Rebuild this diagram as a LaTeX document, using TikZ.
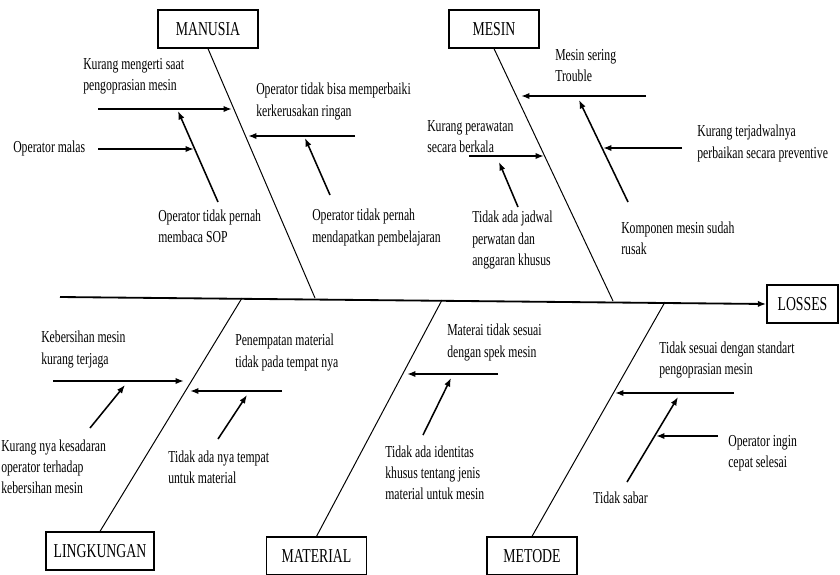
\documentclass[tikz,border=0pt]{standalone}
\usepackage{fontspec}
\setmainfont{Liberation Serif}[FakeStretch=0.7]
\usetikzlibrary{positioning,arrows.meta,calc}

\begin{document}
\begin{tikzpicture}[x=0.025cm,y=-0.025cm,
    cat/.style={draw,line width=0.9pt,minimum height=0.95cm,inner sep=2pt,font=\fontsize{14}{16}\selectfont},
    txt/.style={anchor=west,align=left,inner sep=0pt,font=\fontsize{11.9}{15}\selectfont},
    bone/.style={line width=0.7pt},
    spine/.style={line width=1.3pt,-{Latex[length=6pt,width=4.5pt]}},
    cause/.style={line width=1.3pt,-{Latex[length=6pt,width=4.5pt]}},
    subcause/.style={line width=1.1pt,-{Latex[length=6pt,width=4.5pt]}}]
    \useasboundingbox (0,0) rectangle (840,574);

    % Category boxes
    \node[cat,minimum width=2.5cm] (manusia) at (208,29) {MANUSIA};
    \node[cat,minimum width=2.25cm] (mesin) at (494,29) {MESIN};
    \node[cat,minimum width=1.78cm] (losses) at (802.5,304) {LOSSES};
    \node[cat,minimum width=2.7cm] (lingkungan) at (100,551) {LINGKUNGAN};
    \node[cat,minimum width=2.5cm] (material) at (316.5,556) {MATERIAL};
    \node[cat,minimum width=2.25cm] (metode) at (532,556) {METODE};

    % Spine and bones
    \coordinate (tail) at (60,297);
    \coordinate (mS) at (315,298);
    \coordinate (eS) at (613,301);
    \coordinate (lS) at (242,298);
    \coordinate (tS) at (442,300);
    \coordinate (dS) at (665,302);
    \draw[spine] (tail) -- (losses.west);
    \draw[bone] (manusia.south) -- (mS);
    \draw[bone] (mesin.south) -- (eS);
    \draw[bone] (lS) -- (lingkungan.north);
    \draw[bone] (tS) -- (material.north);
    \draw[bone] (dS) -- (metode.north);

    % Manusia
    \node[txt] (kurangMengerti) at (83,76.5) {Kurang mengerti saat\\pengoprasian mesin};
    \node[txt] (tidakBaca) at (158,226.5) {Operator tidak pernah\\membaca SOP};
    \node[txt] (malas) at (13,148) {Operator malas};
    \node[txt] (tidakBisa) at (256,101.5) {Operator tidak bisa memperbaiki\\kerkerusakan ringan};
    \node[txt] (tidakBelajar) at (312,227.5) {Operator tidak pernah\\mendapatkan pembelajaran};
    \coordinate (a1s) at (98,109);   \coordinate (a1e) at (232,109);
    \coordinate (a1ss) at (218,202); \coordinate (a1se) at (178,111);
    \coordinate (a1ts) at (98,149);  \coordinate (a1te) at (194,149);
    \coordinate (a2s) at (355,136);  \coordinate (a2e) at (248,136);
    \coordinate (a2ss) at (330,195); \coordinate (a2se) at (305,138);
    \draw[cause] (a1s) -- (a1e);
    \draw[subcause] (a1ss) -- (a1se);
    \draw[cause] (a1ts) -- (a1te);
    \draw[cause] (a2s) -- (a2e);
    \draw[subcause] (a2ss) -- (a2se);

    % Mesin
    \node[txt] (seringTrouble) at (555,65.5) {Mesin sering\\Trouble};
    \node[txt] (komponen) at (621,238.5) {Komponen mesin sudah\\rusak};
    \node[txt] (terjadwal) at (697,143.5) {Kurang terjadwalnya\\perbaikan secara preventive};
    \node[txt] (perawatan) at (427,136.5) {Kurang perawatan\\secara berkala};
    \node[txt] (jadwal) at (472,240) {Tidak ada jadwal\\perwatan dan\\anggaran khusus};
    \coordinate (b1s) at (646,96);   \coordinate (b1e) at (521,96);
    \coordinate (b1ss) at (628,202); \coordinate (b1se) at (579,100);
    \coordinate (b1ts) at (682,148); \coordinate (b1te) at (603,148);
    \coordinate (b2s) at (469,156);  \coordinate (b2e) at (544,156);
    \coordinate (b2ss) at (518,207); \coordinate (b2se) at (499,162);
    \draw[cause] (b1s) -- (b1e);
    \draw[subcause] (b1ss) -- (b1se);
    \draw[cause] (b1ts) -- (b1te);
    \draw[cause] (b2s) -- (b2e);
    \draw[subcause] (b2ss) -- (b2se);

    % Lingkungan
    \node[txt] (kebersihan) at (41,349.5) {Kebersihan mesin\\kurang terjaga};
    \node[txt] (kesadaran) at (1,467) {Kurang nya kesadaran\\operator terhadap\\kebersihan mesin};
    \node[txt] (penempatan) at (235,352.5) {Penempatan material\\tidak pada tempat nya};
    \node[txt] (tempat) at (168,467.5) {Tidak ada nya tempat\\untuk material};
    \coordinate (c1s) at (53,381);   \coordinate (c1e) at (184,381);
    \coordinate (c1ss) at (90,428);  \coordinate (c1se) at (125,385);
    \coordinate (c2s) at (282,391);  \coordinate (c2e) at (190,391);
    \coordinate (c2ss) at (218,439); \coordinate (c2se) at (247,395);
    \draw[cause] (c1s) -- (c1e);
    \draw[subcause] (c1ss) -- (c1se);
    \draw[cause] (c2s) -- (c2e);
    \draw[subcause] (c2ss) -- (c2se);

    % Material
    \node[txt] (spek) at (447,342.5) {Materai tidak sesuai\\dengan spek mesin};
    \node[txt] (identitas) at (385,473) {Tidak ada identitas\\khusus tentang jenis\\material untuk mesin};
    \coordinate (d1s) at (498,374);  \coordinate (d1e) at (407,374);
    \coordinate (d1ss) at (423,435); \coordinate (d1se) at (451,378);
    \draw[cause] (d1s) -- (d1e);
    \draw[subcause] (d1ss) -- (d1se);

    % Metode
    \node[txt] (standart) at (659,360) {Tidak sesuai dengan standart\\pengoprasian mesin};
    \node[txt] (sabar) at (593,498) {Tidak sabar};
    \node[txt] (cepat) at (728,453) {Operator ingin\\cepat selesai};
    \coordinate (e1s) at (734,393);  \coordinate (e1e) at (615,393);
    \coordinate (e1ss) at (627,482); \coordinate (e1se) at (678,397);
    \coordinate (e1ts) at (718,436); \coordinate (e1te) at (656,436);
    \draw[cause] (e1s) -- (e1e);
    \draw[subcause] (e1ss) -- (e1se);
    \draw[cause] (e1ts) -- (e1te);
\end{tikzpicture}
\end{document}
